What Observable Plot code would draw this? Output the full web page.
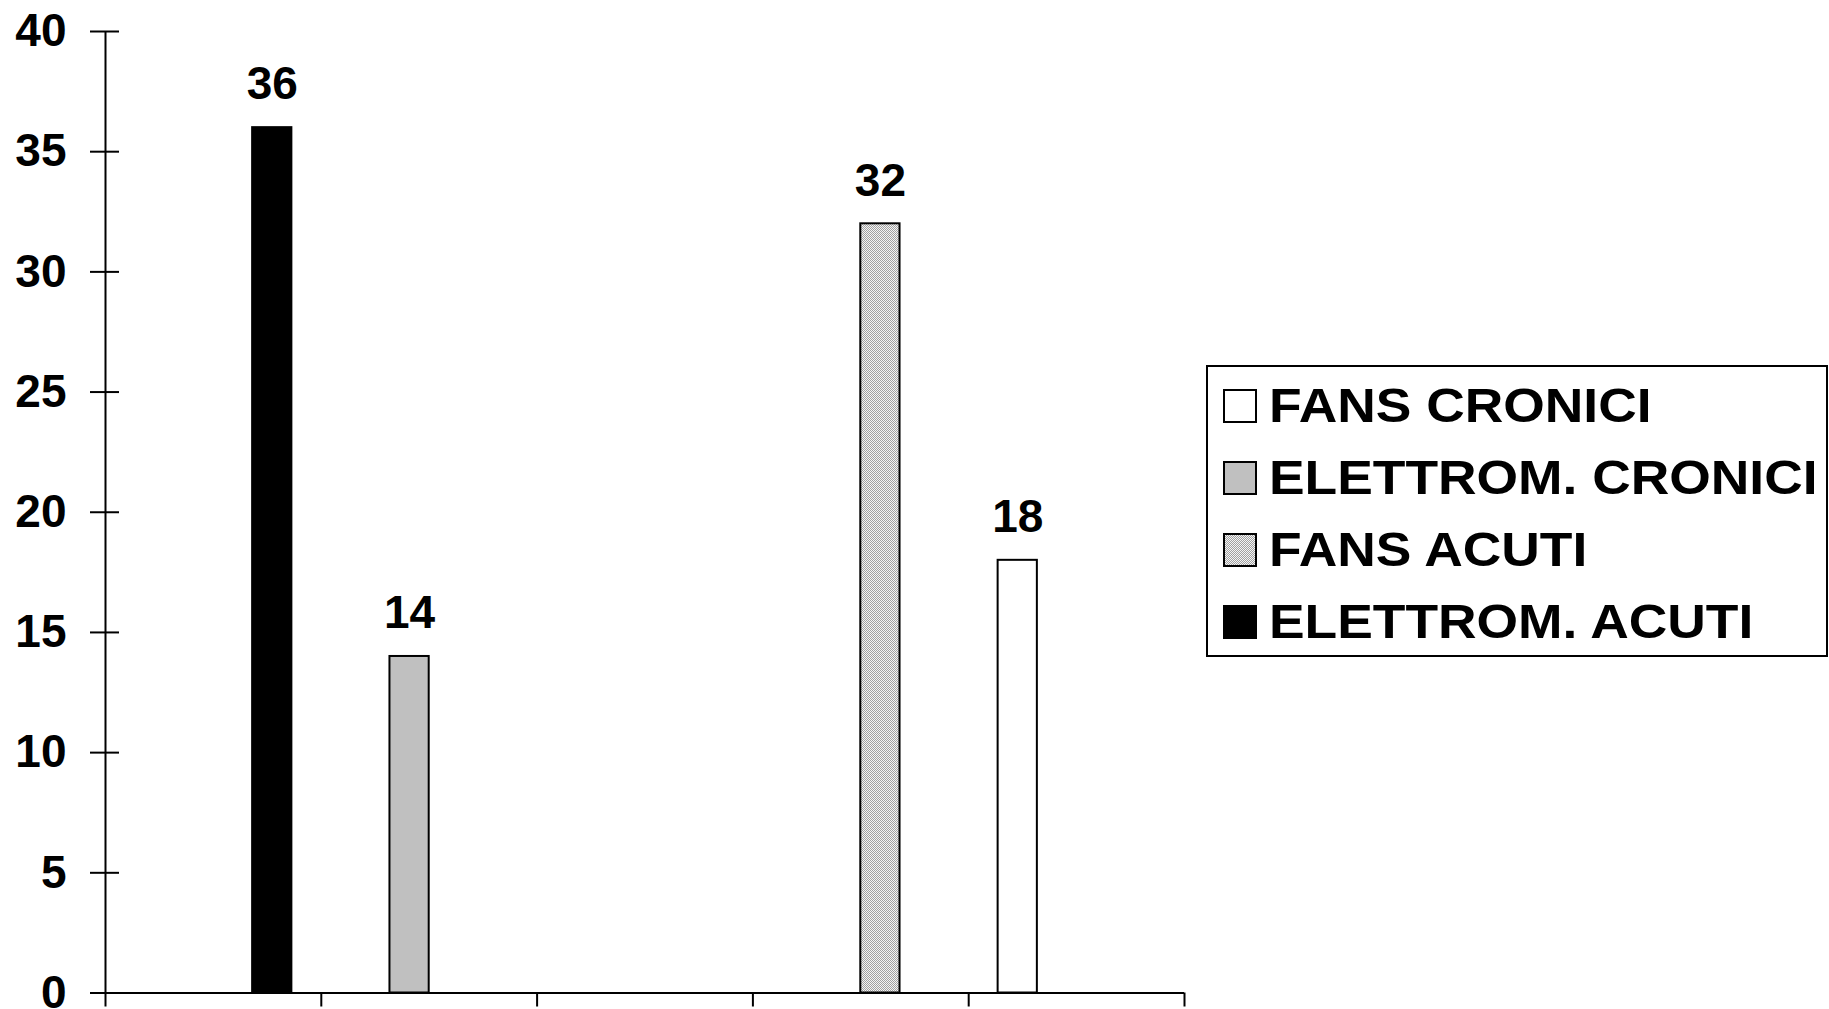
<!DOCTYPE html>
<html>
<head>
<meta charset="utf-8">
<script src="https://cdn.jsdelivr.net/npm/d3@7"></script>
<script src="https://cdn.jsdelivr.net/npm/@observablehq/plot@0.6"></script>
<style>
  body { margin: 0; background: #fff; }
  #wrap { position: relative; width: 1829px; height: 1009px; overflow: hidden;
          font-family: "Liberation Sans", Arial, sans-serif; font-weight: bold; }
  #legend { position: absolute; left: 1206px; top: 365px; width: 622px; height: 292px;
            box-sizing: border-box; border: 2px solid #000; background: #fff; padding-top: 3px; }
  .item { display: flex; align-items: center; height: 72px; }
  .sw { width: 34px; height: 34px; box-sizing: border-box; border: 2px solid #000;
        margin-left: 15px; margin-right: 12px; flex: none; }
  .lab { font-size: 48px; line-height: 1; display: inline-block; white-space: nowrap;
         transform: scaleX(1.112); transform-origin: 0 50%; color: #000; }
</style>
</head>
<body>
<div id="wrap"><div id="legend"></div></div>
<script>
// ---- data ----
const categories = ["1", "2", "3", "4", "5"];           // category labels are not shown
const series = ["FANS CRONICI", "ELETTROM. CRONICI", "FANS ACUTI", "ELETTROM. ACUTI"];
const fansCronici      = [null, null, null, null, 18];
const elettromCronici  = [null, 14,   null, null, null];
const fansAcuti        = [null, null, null, 32,   null];
const elettromAcuti    = [36,   null, null, null, null];
const yTicks = [0, 5, 10, 15, 20, 25, 30, 35, 40];
const xBoundaries = [0, 1, 2, 3, 4, 5];

// ---- styles ----
const seriesFills = ["#ffffff", "#c0c0c0", "url(#stipple)", "#000000"];
const legendCss = ["#ffffff", "#c0c0c0",
  "repeating-conic-gradient(#a0a0a0 0 25%, #f4f4f4 0 50%) 0 0 / 2px 2px", "#000000"];

const seriesValues = [fansCronici, elettromCronici, fansAcuti, elettromAcuti];
const rows = categories.flatMap((c, i) =>
  series.map((s, j) => ({ci: i, category: c, series: s, value: seriesValues[j][i]}))
).filter(d => d.value != null);

// band scale for series inside each category slot (Excel-like gap width 150%)
const sub = Plot.scale({x: {type: "band", domain: series, range: [0, 1],
  paddingInner: 0, paddingOuter: 0.75, align: 0.5, round: false}});
const bw = sub.bandwidth;
const left = d => d.ci + sub.apply(d.series);

const chart = Plot.plot({
  width: 1829, height: 1009,
  marginLeft: 105, marginRight: 645, marginTop: 31, marginBottom: 16.5,
  x: {type: "linear", domain: [0, categories.length]},
  y: {domain: [0, 40]},
  color: {type: "ordinal", domain: series, range: seriesFills},
  style: {fontFamily: '"Liberation Sans", Arial, sans-serif', fontWeight: "bold",
          fontSize: "46px", color: "#000", background: "transparent", overflow: "visible"},
  marks: [
    Plot.axisY({ticks: yTicks, tickSize: 29, tickPadding: 24, dx: 14, strokeWidth: 2,
                fontSize: 46, fontWeight: "bold", label: null}),
    Plot.axisX({ticks: xBoundaries, tickSize: 14, tickFormat: () => "", strokeWidth: 2, label: null}),
    Plot.rect(rows, {x1: left, x2: d => left(d) + bw, y1: 0, y2: "value",
                     fill: "series", stroke: "#000", strokeWidth: 2}),
    Plot.ruleY([0], {strokeWidth: 2}),
    Plot.ruleX([0], {y1: 0, y2: 40, strokeWidth: 2}),
    Plot.text(rows, {x: d => left(d) + bw / 2, y: "value", text: d => String(d.value),
                     dy: -43, fontSize: 46, fontWeight: "bold", fill: "#000"})
  ]
});

// stipple pattern definition
const ns = "http://www.w3.org/2000/svg";
const defs = document.createElementNS(ns, "defs");
defs.innerHTML = '<pattern id="stipple" width="2" height="2" patternUnits="userSpaceOnUse">' +
  '<rect width="2" height="2" fill="#f4f4f4"/>' +
  '<rect width="1" height="1" fill="#a0a0a0"/>' +
  '<rect x="1" y="1" width="1" height="1" fill="#a0a0a0"/></pattern>';
chart.insertBefore(defs, chart.firstChild);

const wrap = document.getElementById("wrap");
wrap.insertBefore(chart, wrap.firstChild);

// legend
const legend = document.getElementById("legend");
series.forEach((s, j) => {
  const item = document.createElement("div");
  item.className = "item";
  const sw = document.createElement("span");
  sw.className = "sw";
  sw.style.background = legendCss[j];
  const lab = document.createElement("span");
  lab.className = "lab";
  lab.textContent = s;
  item.appendChild(sw);
  item.appendChild(lab);
  legend.appendChild(item);
});
</script>
</body>
</html>
